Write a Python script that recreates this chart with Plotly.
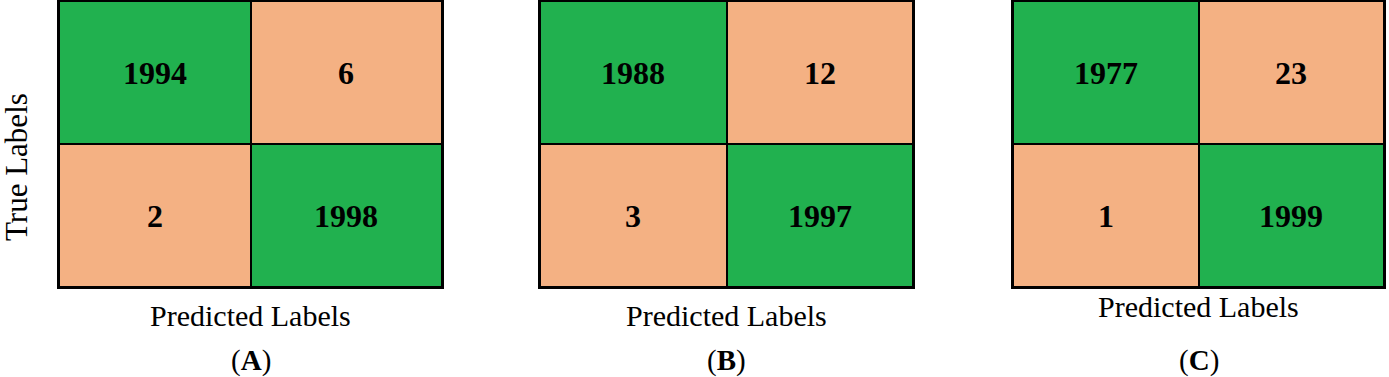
import plotly.graph_objects as go

# Data
panel_labels = ["A", "B", "C"]
matrices = [
    [[1994, 6], [2, 1998]],
    [[1988, 12], [3, 1997]],
    [[1977, 23], [1, 1999]],
]
classes = [0, 1]
x_title = "Predicted Labels"
y_title = "True Labels"

GREEN = "#21B14F"
PEACH = "#F4B183"
W, H = 1389, 377

x_domains = [(59 / W, 442 / W), (540 / W, 913 / W), (1013 / W, 1384 / W)]
y_domain = (1 - 287 / H, 1 - 1 / H)
xtitle_y = [315, 315, 306]

fig = go.Figure()
for i, (lab, m) in enumerate(zip(panel_labels, matrices)):
    suffix = "" if i == 0 else str(i + 1)
    z = [[1 if r == c else 0 for c in classes] for r in classes]
    fig.add_trace(go.Heatmap(
        z=z, x=classes, y=classes,
        text=[[str(v) for v in row] for row in m],
        texttemplate="%{text}",
        textfont=dict(family="Liberation Serif", size=32, color="black", weight="bold"),
        colorscale=[[0, PEACH], [1, GREEN]], zmin=0, zmax=1,
        showscale=False, xgap=2, ygap=2, hoverinfo="skip",
        xaxis="x" + suffix, yaxis="y" + suffix,
    ))
    ax = dict(domain=list(x_domains[i]), range=[-0.5, 1.5], showticklabels=False,
              ticks="", showgrid=False, zeroline=False, showline=True, mirror=True,
              linecolor="black", linewidth=2, anchor="y" + suffix, fixedrange=True)
    ay = dict(domain=list(y_domain), range=[1.5, -0.5], showticklabels=False,
              ticks="", showgrid=False, zeroline=False, showline=True, mirror=True,
              linecolor="black", linewidth=2, anchor="x" + suffix, fixedrange=True)
    fig.update_layout(**{"xaxis" + suffix: ax, "yaxis" + suffix: ay})
    cx = (x_domains[i][0] + x_domains[i][1]) / 2
    fig.add_annotation(text=x_title, xref="paper", yref="paper", x=cx, y=1 - xtitle_y[i] / H,
                       showarrow=False, xanchor="center", yanchor="middle",
                       font=dict(family="Liberation Serif", size=30, color="black"))
    fig.add_annotation(text="(<b>" + lab + "</b>)", xref="paper", yref="paper", x=cx,
                       y=1 - 360 / H, showarrow=False, xanchor="center", yanchor="middle",
                       font=dict(family="Liberation Serif", size=29, color="black"))

fig.add_annotation(text=y_title, xref="paper", yref="paper", x=16 / W, y=1 - 167 / H,
                   showarrow=False, textangle=-90, xanchor="center", yanchor="middle",
                   font=dict(family="Liberation Serif", size=31, color="black"))

fig.update_layout(width=W, height=H, margin=dict(l=0, r=0, t=0, b=0),
                  paper_bgcolor="white", plot_bgcolor="black", showlegend=False)
fig.write_html("out.html", config={"displayModeBar": False},
               post_script="document.body.style.margin='0';document.body.style.overflow='hidden';")
